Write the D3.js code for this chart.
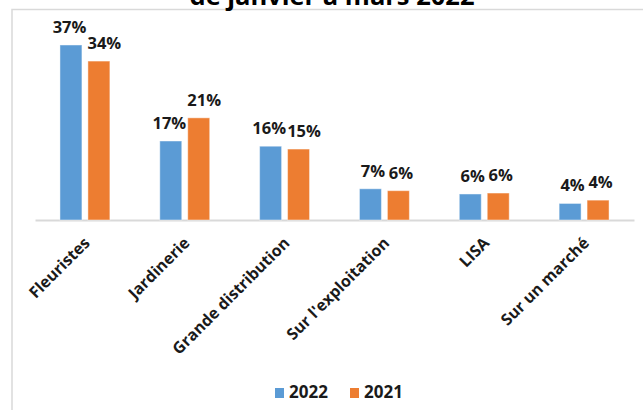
<!DOCTYPE html>
<html><head><meta charset="utf-8">
<script src="https://cdn.jsdelivr.net/npm/d3@7"></script>
<style>html,body{margin:0;padding:0;background:#fff}svg{display:block}</style>
</head><body>
<script>
const categories = ["Fleuristes","Jardinerie","Grande distribution","Sur l'exploitation","LISA","Sur un marché"];
const seriesNames = ["2022","2021"];
const values2022 = [37.0, 16.7, 15.6, 6.6, 5.5, 3.5];
const values2021 = [33.6, 21.6, 15.0, 6.2, 5.7, 4.2];
const labels2022 = ["37%","17%","16%","7%","6%","4%"];
const labels2021 = ["34%","21%","15%","6%","6%","4%"];
const titleText = "de janvier à mars 2022";

const W = 643, H = 410;
const colors = {"2022":"#5B9BD5","2021":"#ED7D31"};
const font = "'Open Sans', sans-serif";

const svg = d3.select("body").append("svg").attr("width", W).attr("height", H);

// frame
svg.append("rect").attr("x",12).attr("y",9.5).attr("width",W+10).attr("height",H+10)
  .attr("fill","none").attr("stroke","#d9d9d9").attr("stroke-width",1.5);

// title (cut off at the top)
svg.append("text").attr("x",332).attr("y",4.5).attr("text-anchor","middle")
  .attr("font-family",font).attr("font-weight",700).attr("font-size",25.5).attr("fill","#000")
  .text(titleText);

const x0 = d3.scaleBand().domain(categories).range([35,634]).paddingInner(0.5).paddingOuter(0.25);
const x1 = d3.scaleBand().domain(seriesNames).range([0,x0.bandwidth()]).paddingInner(0.214);
const y = d3.scaleLinear().domain([0,40]).range([220, 220-189.2]);

const data = categories.map((c,i)=>({cat:c, vals:[
  {s:"2022", v:values2022[i], l:labels2022[i]},
  {s:"2021", v:values2021[i], l:labels2021[i]}]}));

// axis
const xAxis = svg.append("g").attr("transform","translate(0,220)")
  .call(d3.axisBottom(x0).tickSize(0).tickPadding(0));
xAxis.select(".domain").attr("stroke","#d9d9d9").attr("stroke-width",2);
xAxis.selectAll(".tick text")
  .attr("font-family",font).attr("font-weight",700).attr("font-size",16).attr("fill","#1a1a1a")
  .attr("text-anchor","end").attr("dy",null).attr("y",0)
  .attr("transform","translate(6,24) rotate(-45)");

const g = svg.selectAll("g.grp").data(data).join("g").attr("class","grp")
  .attr("transform",d=>`translate(${x0(d.cat)},0)`);

g.selectAll("rect").data(d=>d.vals).join("rect")
  .attr("x",d=>x1(d.s)).attr("width",x1.bandwidth())
  .attr("y",d=>y(d.v)).attr("height",d=>y(0)-y(d.v))
  .attr("fill",d=>colors[d.s]).attr("stroke","rgba(255,255,255,0.45)").attr("stroke-width",1);

g.each(function(){
  const grp = d3.select(this);
  const texts = grp.selectAll("text.lbl").data(d=>d.vals).join("text").attr("class","lbl")
    .attr("x",d=>x1(d.s)+x1.bandwidth()/2+2.5).attr("y",d=>y(d.v)-12)
    .attr("text-anchor","middle")
    .attr("font-family",font).attr("font-weight",700).attr("font-size",16.5).attr("fill","#1a1a1a")
    .text(d=>d.l);
  // simple collision avoidance: push the left label left if boxes collide
  const nodes = texts.nodes();
  const a = nodes[0].getBBox(), b = nodes[1].getBBox();
  const pad = 4;
  const vOverlap = a.y < b.y + b.height + pad && b.y < a.y + a.height + pad;
  const hOverlap = (a.x + a.width) - b.x;
  if (vOverlap && hOverlap > 0) {
    d3.select(nodes[0]).attr("x", +d3.select(nodes[0]).attr("x") - hOverlap/2 - 1);
    d3.select(nodes[1]).attr("x", +d3.select(nodes[1]).attr("x") + hOverlap/2);
  }
});

// legend
const leg = svg.append("g");
const legX = {"2022":275,"2021":350};
seriesNames.forEach(s=>{
  leg.append("rect").attr("x",legX[s]).attr("y",388).attr("width",9).attr("height",10).attr("fill",colors[s]);
  leg.append("text").attr("x",legX[s]+14).attr("y",398).attr("font-family",font).attr("font-weight",700)
    .attr("font-size",17).attr("fill","#1a1a1a").text(s);
});
</script>
</body></html>
